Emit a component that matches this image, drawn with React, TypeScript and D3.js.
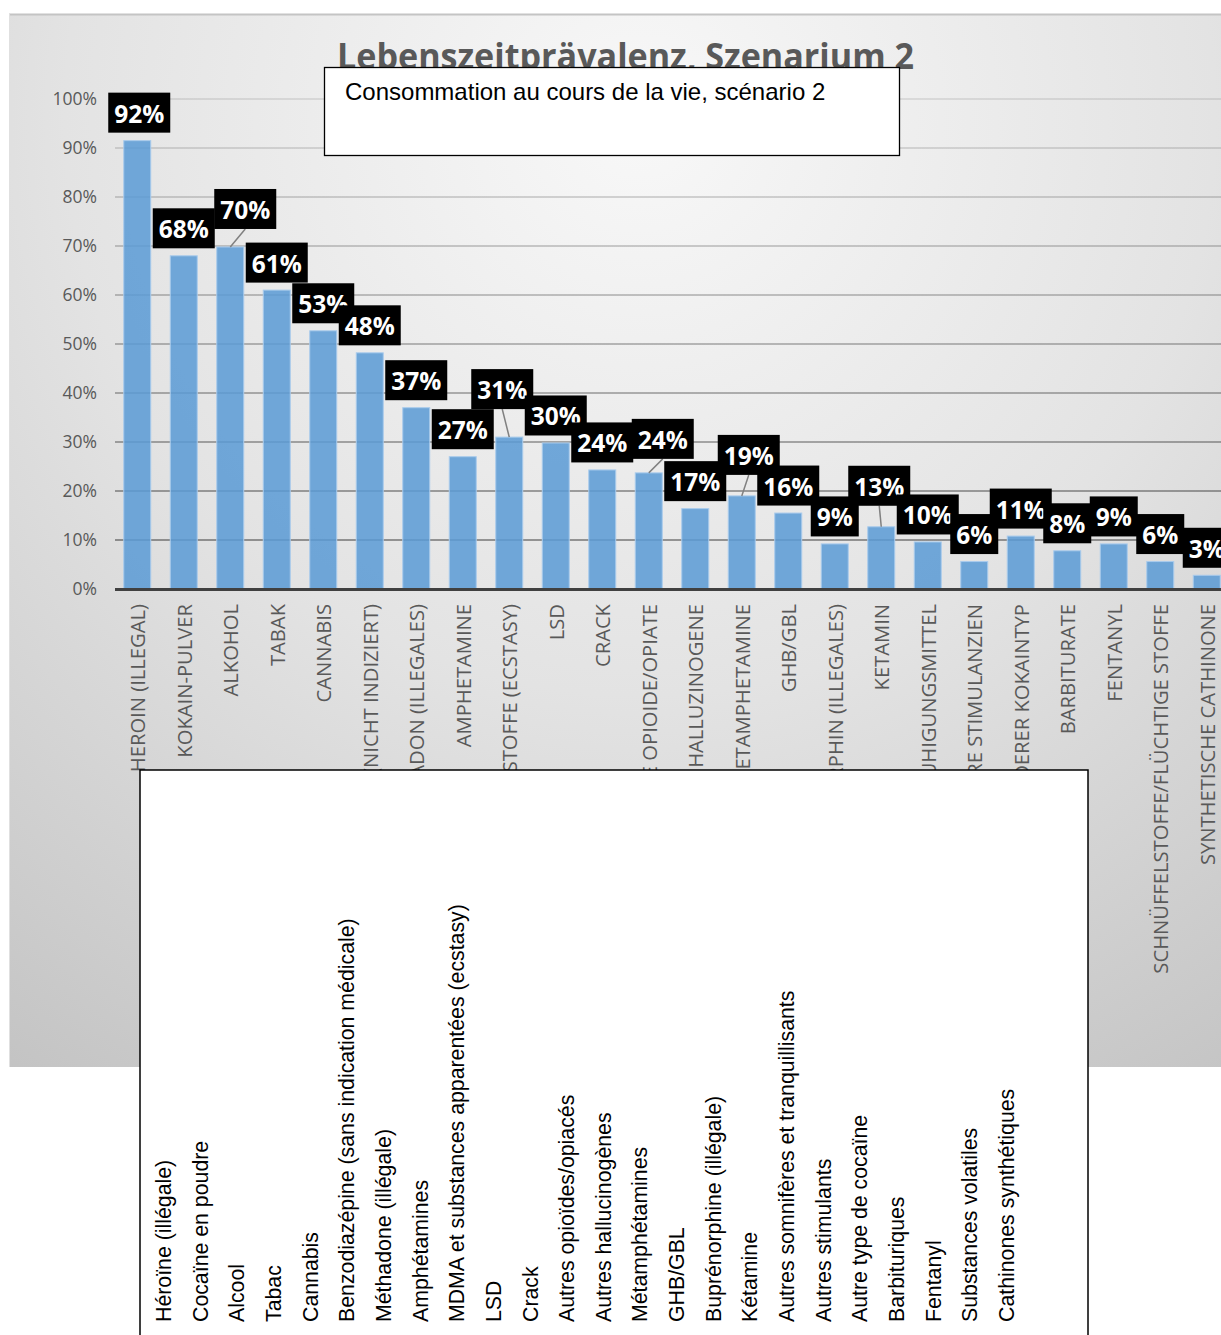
import React from 'react';
import * as d3 from 'd3';

const categoriesDE = [
  'HEROIN (ILLEGAL)',
  'KOKAIN-PULVER',
  'ALKOHOL',
  'TABAK',
  'CANNABIS',
  'BENZODIAZEPINE (NICHT INDIZIERT)',
  'METHADON (ILLEGALES)',
  'AMPHETAMINE',
  'MDMA UND VERWANDTE STOFFE (ECSTASY)',
  'LSD',
  'CRACK',
  'ANDERE OPIOIDE/OPIATE',
  'ANDERE HALLUZINOGENE',
  'METAMPHETAMINE',
  'GHB/GBL',
  'BUPRENORPHIN (ILLEGALES)',
  'KETAMIN',
  'ANDERE SCHLAF- UND BERUHIGUNGSMITTEL',
  'ANDERE STIMULANZIEN',
  'ANDERER KOKAINTYP',
  'BARBITURATE',
  'FENTANYL',
  'SCHNÜFFELSTOFFE/FLÜCHTIGE STOFFE',
  'SYNTHETISCHE CATHINONE',
];

const categoriesFR = [
  'Héroïne (illégale)',
  'Cocaïne en poudre',
  'Alcool',
  'Tabac',
  'Cannabis',
  'Benzodiazépine (sans indication médicale)',
  'Méthadone (illégale)',
  'Amphétamines',
  'MDMA et substances apparentées (ecstasy)',
  'LSD',
  'Crack',
  'Autres opioïdes/opiacés',
  'Autres hallucinogènes',
  'Métamphétamines',
  'GHB/GBL',
  'Buprénorphine (illégale)',
  'Kétamine',
  'Autres somnifères et tranquillisants',
  'Autres stimulants',
  'Autre type de cocaïne',
  'Barbituriques',
  'Fentanyl',
  'Substances volatiles',
  'Cathinones synthétiques',
];

const values = [
  0.915, 0.68, 0.698, 0.61, 0.527, 0.482, 0.37, 0.27, 0.31, 0.298, 0.243, 0.237,
  0.164, 0.19, 0.155, 0.092, 0.127, 0.096, 0.056, 0.108, 0.078, 0.092, 0.056, 0.028,
];

const valueLabels = [
  '92%', '68%', '70%', '61%', '53%', '48%', '37%', '27%', '31%', '30%', '24%', '24%',
  '17%', '19%', '16%', '9%', '13%', '10%', '6%', '11%', '8%', '9%', '6%', '3%',
];

const yTicks = [0, 0.1, 0.2, 0.3, 0.4, 0.5, 0.6, 0.7, 0.8, 0.9, 1.0];

const titleDE = 'Lebenszeitprävalenz, Szenarium 2';
const titleFR = 'Consommation au cours de la vie, scénario 2';

// layout: label box nudges (dx from bar centre, gap above bar top)
const labelNudge: Record<number, [number, number]> = {
  0: [2, 8],
  2: [15, 18],
  8: [-7, 28],
  11: [14, 14],
  13: [7, 21],
  16: [-2, 21],
};

const W = 1221;
const H = 1335;

export default function App() {
  const y = d3.scaleLinear().domain([0, 1]).range([589, 99]);
  const x = d3
    .scaleBand<number>()
    .domain(d3.range(values.length))
    .range([114, 1230])
    .paddingInner(0.42)
    .paddingOuter(0.21);
  const xFr = d3
    .scalePoint<number>()
    .domain(d3.range(categoriesFR.length))
    .range([171, 1014]);
  const fmt = d3.format('.0%');

  const boxH = 40;

  return (
    <svg
      width={W}
      height={H}
      style={{ position: 'absolute', left: 0, top: 0, background: '#fff' }}
    >
      <defs>
        <radialGradient id="bgGrad" gradientUnits="userSpaceOnUse" cx={640} cy={120} r={1150}>
          <stop offset="0" stopColor="#f8f8f8" />
          <stop offset="0.5" stopColor="#e3e3e3" />
          <stop offset="1" stopColor="#c3c3c3" />
        </radialGradient>
        <linearGradient id="gridGrad" gradientUnits="userSpaceOnUse" x1={0} y1={99} x2={0} y2={589}>
          <stop offset="0" stopColor="#000" stopOpacity={0.09} />
          <stop offset="1" stopColor="#000" stopOpacity={0.4} />
        </linearGradient>
      </defs>

      {/* chart area */}
      <rect x={9} y={14} width={W} height={1053} fill="url(#bgGrad)" />
      <line x1={9} x2={W} y1={14.5} y2={14.5} stroke="#c4c4c4" strokeWidth={2} />
      <line x1={9.5} x2={9.5} y1={14} y2={1067} stroke="#e0e0e0" strokeWidth={1} />

      {/* title */}
      <text
        x={337}
        y={69}
        textLength={577}
        lengthAdjust="spacingAndGlyphs"
        fontFamily="'Open Sans', sans-serif"
        fontWeight={700}
        fontSize={35}
        fill="#595959"
      >
        {titleDE}
      </text>

      {/* gridlines */}
      {yTicks.slice(1).map((t) => (
        <line
          key={'g' + t}
          x1={115}
          x2={W}
          y1={y(t)}
          y2={y(t)}
          stroke="url(#gridGrad)"
          strokeWidth={2}
        />
      ))}

      {/* bars */}
      {values.map((v, i) => (
        <rect
          key={'b' + i}
          x={x(i)}
          y={y(v)}
          width={x.bandwidth()}
          height={y(0) - y(v)}
          fill="#5b9bd5"
          fillOpacity={0.86}
          stroke="#a9cbec"
          strokeWidth={1}
        />
      ))}

      {/* axis line */}
      <line x1={115} x2={W} y1={y(0) + 0.5} y2={y(0) + 0.5} stroke="#404040" strokeWidth={3} />

      {/* y tick labels */}
      {yTicks.map((t) => (
        <text
          key={'t' + t}
          x={97}
          y={y(t)}
          dy="0.36em"
          textAnchor="end"
          fontFamily="'Open Sans', sans-serif"
          fontSize={17.5}
          fill="#595959"
        >
          {fmt(t)}
        </text>
      ))}

      {/* German category labels */}
      {categoriesDE.map((c, i) => {
        const cx = (x(i) as number) + x.bandwidth() / 2;
        return (
          <text
            key={'de' + i}
            transform={`translate(${cx + 8},604) rotate(-90)`}
            textAnchor="end"
            fontFamily="'Open Sans', sans-serif"
            fontSize={20.2}
            fill="#595959"
          >
            {c}
          </text>
        );
      })}

      {/* value labels */}
      {values.map((v, i) => {
        const cx = (x(i) as number) + x.bandwidth() / 2;
        const [dx, gap] = labelNudge[i] ?? [0, 7.5];
        const label = valueLabels[i];
        const bw = 20 + 14 * label.length;
        const bx = cx + dx - bw / 2;
        const bottom = y(v) - gap;
        const by = bottom - boxH;
        return (
          <g key={'l' + i}>
            {gap > 10 && (
              <line
                x1={cx}
                y1={y(v)}
                x2={cx + dx}
                y2={bottom}
                stroke="#808080"
                strokeWidth={1.5}
              />
            )}
            <rect x={bx} y={by} width={bw} height={boxH} fill="#000" />
            <text
              x={cx + dx}
              y={by + 30}
              textAnchor="middle"
              fontFamily="'Open Sans', sans-serif"
              fontWeight={700}
              fontSize={24.5}
              fill="#fff"
            >
              {label}
            </text>
          </g>
        );
      })}

      {/* French title overlay */}
      <rect x={324.5} y={67.5} width={575} height={88} fill="#fff" stroke="#000" strokeWidth={1.3} />
      <text
        x={345}
        y={100}
        fontFamily="'Liberation Sans', Arial, sans-serif"
        fontSize={24}
        fill="#000"
      >
        {titleFR}
      </text>

      {/* French category overlay */}
      <rect x={140} y={770} width={948} height={620} fill="#fff" stroke="#000" strokeWidth={1.5} />
      {categoriesFR.map((c, i) => (
        <text
          key={'fr' + i}
          transform={`translate(${xFr(i)},1322) rotate(-90)`}
          textAnchor="start"
          fontFamily="'Liberation Sans', Arial, sans-serif"
          fontSize={21.3}
          fill="#000"
        >
          {c}
        </text>
      ))}
    </svg>
  );
}
